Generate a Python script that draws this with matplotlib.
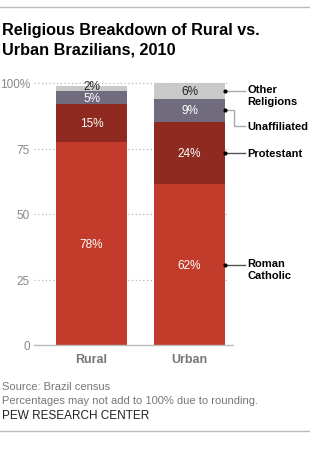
import numpy as np
import matplotlib
matplotlib.use("Agg")
import matplotlib.pyplot as plt

# data
groups = ["Rural", "Urban"]
series = ["Roman\nCatholic", "Protestant", "Unaffiliated", "Other\nReligions"]
rural = [77.4, 14.7, 4.8, 2.1]
urban = [61.3, 23.8, 8.9, 6.0]
rural_labels = ["78%", "15%", "5%", "2%"]
urban_labels = ["62%", "24%", "9%", "6%"]
colors = ["#c23b2b", "#8e2a1f", "#716b7e", "#c9c9c9"]
label_colors = ["white", "white", "white", "#222222"]
yticks = [0, 25, 50, 75, 100]
ytick_labels = ["0", "25", "50", "75", "100%"]

W, H = 310, 452
fig = plt.figure(figsize=(W / 100, H / 100), dpi=100)
plt.rcParams['font.family'] = ['Liberation Sans', 'DejaVu Sans']

def px(x0, y0, x1, y1):
	# pixel box (top-left origin) -> figure fraction
	return [x0 / W, 1 - y1 / H, (x1 - x0) / W, (y1 - y0) / H]

ax = fig.add_axes(px(34, 84, 233, 346))
x = np.arange(len(groups))
bw = 0.724
ax.set_xlim(-0.587, 1.444)
ax.set_ylim(0, 100)

for yv in yticks[1:]:
	ax.plot([-0.587, 1.40], [yv, yv], color="#b5b5b5", lw=0.9, ls=(0, (1, 2)), zorder=0, clip_on=False)

data = np.array([rural, urban])
labs = [rural_labels, urban_labels]
for gi in range(len(groups)):
	bottom = 0.0
	for si in range(len(series)):
		v = data[gi][si]
		ax.bar(x[gi], v, bw, bottom=bottom, color=colors[si], zorder=2)
		yl = bottom + v / 2
		if gi == 0 and si == 3:
			yl += 0.9
		if gi == 0 and si == 2:
			yl -= 0.3
		ax.text(x[gi], yl, labs[gi][si], ha="center", va="center",
				color=label_colors[si], fontsize=8.5, zorder=3)
		bottom += v

for s in ["top", "right", "left"]:
	ax.spines[s].set_visible(False)
ax.spines["bottom"].set_color("#bbbbbb")
ax.spines["bottom"].set_linewidth(1)
ax.set_yticks(yticks)
ax.set_yticklabels(ytick_labels, color="#888888", fontsize=8.5)
ax.tick_params(axis="y", length=0, pad=3)
ax.set_xticks(x)
ax.set_xticklabels(groups, color="#777777", fontsize=9, fontweight="bold")
ax.tick_params(axis="x", length=0, pad=6)

# right-hand labels on the urban bar
edge = x[1] + bw / 2
lx = edge + 0.20
tx = lx + 0.03
cum = np.cumsum([0] + urban)
mids = [(cum[i] + cum[i + 1]) / 2 for i in range(len(urban))]
line_cols = ["#555555", "#555555", "#aaaaaa", "#aaaaaa"]
for si in range(len(series)):
	ym = mids[si]
	if si == 2:
		yd = ym - 5.9
		ax.plot([edge, edge + 0.09, edge + 0.09, lx], [ym, ym, yd, yd], color=line_cols[si], lw=1, clip_on=False, zorder=4)
	else:
		yd = ym
		ax.plot([edge, lx], [ym, ym], color=line_cols[si], lw=1, clip_on=False, zorder=4)
	ax.plot([edge], [ym], "o", color="black", ms=2, clip_on=False, zorder=5)
	if "\n" in series[si]:
		ax.text(tx, yd + 2.5, series[si], ha="left", va="top", fontsize=8, fontweight="bold",
				color="black", linespacing=1.2, clip_on=False)
	else:
		ax.text(tx, yd, series[si], ha="left", va="center", fontsize=8, fontweight="bold",
				color="black", clip_on=False)

# title, footer and rules
fig.add_artist(plt.Line2D([0, 1], [1 - 8 / H, 1 - 8 / H], color="#bbbbbb", lw=1))
fig.text(2 / W, 1 - 23 / H, "Religious Breakdown of Rural vs.\nUrban Brazilians, 2010",
		 ha="left", va="top", fontsize=11.7, fontweight="bold", linespacing=1.4)
fig.text(2 / W, 1 - 387 / H, "Source: Brazil census", ha="left", va="center", fontsize=8, color="#777777")
fig.text(2 / W, 1 - 401 / H, "Percentages may not add to 100% due to rounding.", ha="left", va="center",
		 fontsize=8, color="#777777")
fig.text(2 / W, 1 - 416 / H, "PEW RESEARCH CENTER", ha="left", va="center", fontsize=8.5, color="#222222")
fig.add_artist(plt.Line2D([0, 1], [1 - 432 / H, 1 - 432 / H], color="#bbbbbb", lw=1))

fig.savefig("out.png", dpi=100)
